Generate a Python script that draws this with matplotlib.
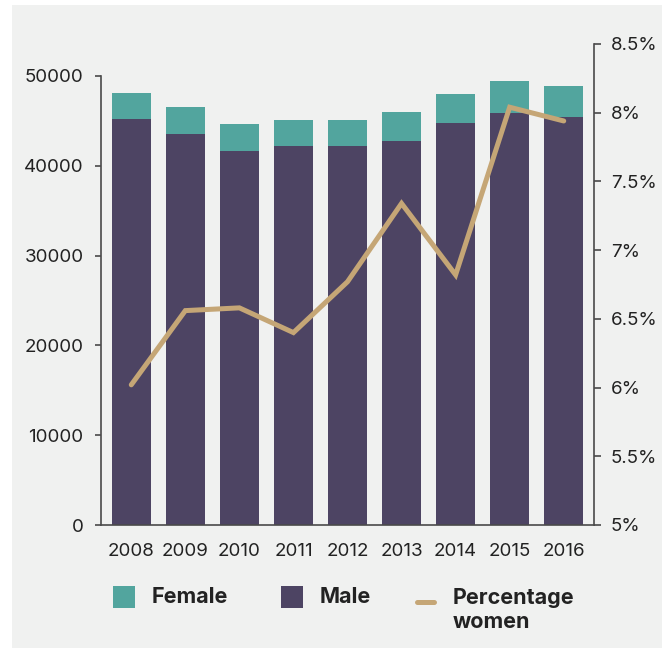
import numpy as np
import matplotlib
matplotlib.use("Agg")
import matplotlib.pyplot as plt
from matplotlib.patches import Rectangle
from matplotlib.lines import Line2D

plt.rcParams['font.family'] = ['Inter', 'DejaVu Sans']

years = ['2008', '2009', '2010', '2011', '2012', '2013', '2014', '2015', '2016']
total = [48100, 46550, 44650, 45100, 45100, 45990, 48000, 49440, 48890]
male = [45200, 43540, 41650, 42200, 42200, 42760, 44770, 45880, 45430]
pct_women = [6.02, 6.56, 6.58, 6.40, 6.77, 7.34, 6.82, 8.04, 7.94]

female = [t - m for t, m in zip(total, male)]

c_female = '#52a59e'
c_male = '#4d4463'
c_line = '#c5a676'
c_bg = '#f0f1f0'
c_axis = '#4a4a4a'
c_text = '#222222'

W, H = 668, 648
fig = plt.figure(figsize=(W / 100, H / 100), dpi=100, facecolor='white')

def fx(px):
    return px / W

def fy(py):
    return 1 - py / H

# light panel behind everything
fig.patches.append(Rectangle((fx(12), 0), fx(662) - fx(12), fy(5),
                             transform=fig.transFigure, facecolor=c_bg,
                             edgecolor='none', zorder=-10))

ax = fig.add_axes([fx(101), fy(525), fx(594) - fx(101), fy(44) - fy(525)])
ax.set_facecolor('none')
x = np.arange(len(years))

ax.bar(x, male, width=0.72, color=c_male, zorder=2)
ax.bar(x, female, width=0.72, bottom=male, color=c_female, zorder=2)

ax.set_xlim(-0.56, len(years) - 1 + 0.56)
ax.set_ylim(0, 50000 * 481 / 449)
ax.set_yticks(range(0, 50001, 10000))
ax.set_yticklabels([str(v) for v in range(0, 50001, 10000)])
ax.set_xticks(x)
ax.set_xticklabels(years)

for s in ['top', 'right']:
    ax.spines[s].set_visible(False)
ax.spines['left'].set_bounds(0, 50000)
for s in ['left', 'bottom']:
    ax.spines[s].set_color(c_axis)
    ax.spines[s].set_linewidth(1.2)

ax.tick_params(axis='y', length=4.5, width=1.2, color=c_axis, pad=8,
               labelsize=13.5, labelcolor=c_text)
ax.tick_params(axis='x', length=0, pad=13, labelsize=13.5, labelcolor=c_text)

ax2 = ax.twinx()
ax2.plot(x, pct_women, color=c_line, linewidth=3.6, solid_capstyle='round',
         solid_joinstyle='miter', zorder=3)
ax2.set_ylim(5, 8.5)
ticks = [5, 5.5, 6, 6.5, 7, 7.5, 8, 8.5]
ax2.set_yticks(ticks)
ax2.set_yticklabels([('%g' % t) + '%' for t in ticks])
for s in ['top', 'left', 'bottom']:
    ax2.spines[s].set_visible(False)
ax2.spines['right'].set_color(c_axis)
ax2.spines['right'].set_linewidth(1.2)
ax2.tick_params(axis='y', length=5, width=1.2, color=c_axis, pad=7,
                labelsize=13.5, labelcolor=c_text)

# legend
fig.patches.append(Rectangle((fx(113), fy(608)), fx(22), 22 / H,
                             transform=fig.transFigure, facecolor=c_female,
                             edgecolor='none'))
fig.text(fx(152), fy(597), 'Female', fontsize=15.5, fontweight='bold',
         color=c_text, ha='left', va='center')
fig.patches.append(Rectangle((fx(281), fy(608)), fx(22), 22 / H,
                             transform=fig.transFigure, facecolor=c_male,
                             edgecolor='none'))
fig.text(fx(320), fy(597), 'Male', fontsize=15.5, fontweight='bold',
         color=c_text, ha='left', va='center')
fig.lines.append(Line2D([fx(417), fx(434)], [fy(602), fy(602)],
                        transform=fig.transFigure, color=c_line,
                        linewidth=3.6, solid_capstyle='round'))
fig.text(fx(453), fy(610), 'Percentage\nwomen', fontsize=15.5,
         fontweight='bold', color=c_text, ha='left', va='center',
         linespacing=1.2)

fig.savefig('out.png', dpi=100, facecolor='white')
